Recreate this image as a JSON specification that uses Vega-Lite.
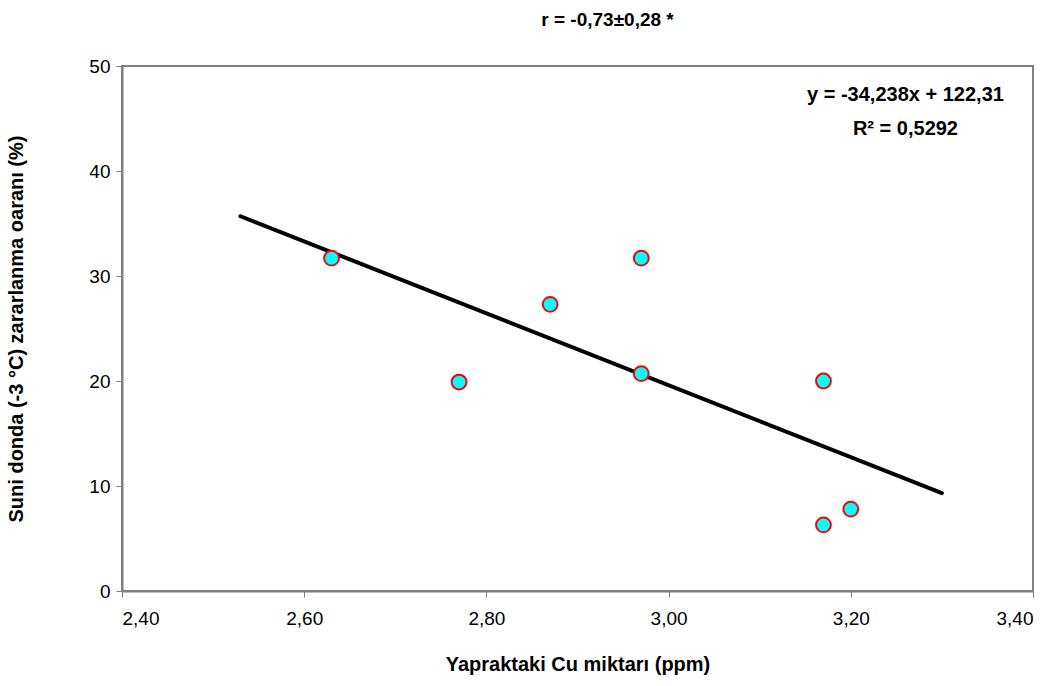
{
  "$schema": "https://vega.github.io/schema/vega-lite/v6.json",
  "width": 911,
  "height": 525,
  "autosize": {"type": "none"},
  "padding": {"left": 122, "top": 66, "right": 29, "bottom": 95},
  "background": "white",
  "title": {
    "text": "r = -0,73±0,28 *",
    "font": "Liberation Sans",
    "fontSize": 19,
    "fontWeight": "bold",
    "color": "black",
    "anchor": "middle",
    "dx": 30,
    "offset": 12,
    "baseline": "alphabetic"
  },
  "config": {
    "view": {"stroke": "#808080", "strokeWidth": 2},
    "font": "Liberation Sans"
  },
  "datasets": {
    "points": [
      {"cu": 2.63, "rate": 31.7},
      {"cu": 2.77, "rate": 19.9},
      {"cu": 2.87, "rate": 27.3},
      {"cu": 2.97, "rate": 31.7},
      {"cu": 2.97, "rate": 20.7},
      {"cu": 3.17, "rate": 20.0},
      {"cu": 3.17, "rate": 6.3},
      {"cu": 3.20, "rate": 7.8}
    ],
    "trend": [
      {"cu": 2.53, "rate": 35.69},
      {"cu": 3.30, "rate": 9.32}
    ],
    "labels": [
      {"cu": 3.26, "rate": 47.2, "text": "y = -34,238x + 122,31"},
      {"cu": 3.26, "rate": 44.0, "text": "R² = 0,5292"}
    ]
  },
  "layer": [
    {
      "data": {"name": "trend"},
      "mark": {"type": "line", "color": "black", "strokeWidth": 4, "strokeCap": "round"},
      "encoding": {
        "x": {
          "field": "cu", "type": "quantitative",
          "scale": {"domain": [2.4, 3.4], "nice": false, "zero": false},
          "axis": {
            "title": "Yapraktaki Cu miktarı (ppm)",
            "titleFont": "Liberation Sans", "titleFontSize": 20, "titleFontWeight": "bold", "titleColor": "black",
            "titlePadding": 26,
            "values": [2.4, 2.6, 2.8, 3.0, 3.2, 3.4],
            "labelExpr": "replace(format(datum.value, '.2f'), '.', ',')",
            "labelFont": "Liberation Sans", "labelFontSize": 19, "labelColor": "black", "labelPadding": 12,
            "grid": false, "domainColor": "#808080", "domainWidth": 2,
            "tickColor": "#808080", "tickSize": 6, "tickWidth": 1
          }
        },
        "y": {
          "field": "rate", "type": "quantitative",
          "scale": {"domain": [0, 50], "nice": false},
          "axis": {
            "title": "Suni donda (-3 °C) zararlanma oaranı (%)",
            "titleFont": "Liberation Sans", "titleFontSize": 20, "titleFontWeight": "bold", "titleColor": "black",
            "titlePadding": 62,
            "values": [0, 10, 20, 30, 40, 50],
            "labelFont": "Liberation Sans", "labelFontSize": 19, "labelColor": "black", "labelPadding": 6,
            "grid": false, "domainColor": "#808080", "domainWidth": 2,
            "tickColor": "#808080", "tickSize": 6, "tickWidth": 1
          }
        }
      }
    },
    {
      "data": {"name": "points"},
      "mark": {"type": "point", "shape": "circle", "filled": true, "fill": "#00FFFF", "stroke": "#FF0000", "strokeWidth": 2, "size": 220, "opacity": 1},
      "encoding": {
        "x": {"field": "cu", "type": "quantitative"},
        "y": {"field": "rate", "type": "quantitative"}
      }
    },
    {
      "data": {"name": "labels"},
      "mark": {"type": "text", "font": "Liberation Sans", "fontSize": 20, "fontWeight": "bold", "color": "black", "align": "center", "baseline": "middle"},
      "encoding": {
        "x": {"field": "cu", "type": "quantitative"},
        "y": {"field": "rate", "type": "quantitative"},
        "text": {"field": "text"}
      }
    }
  ]
}
